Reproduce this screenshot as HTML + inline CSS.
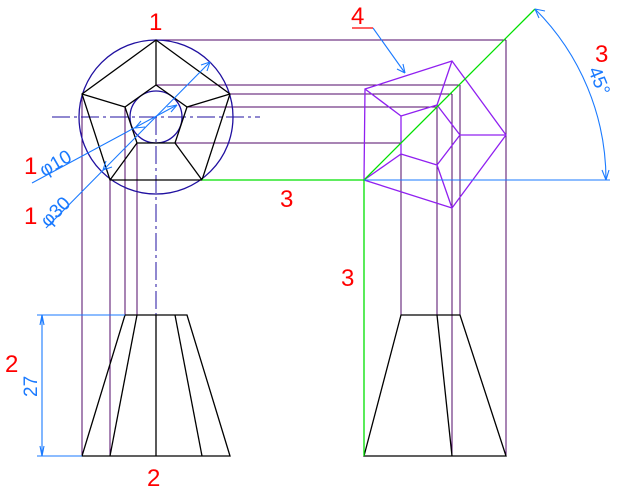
<!DOCTYPE html>
<html><head><meta charset="utf-8"><style>html,body{margin:0;padding:0;background:#fff}svg{display:block}</style></head>
<body>
<svg width="619" height="490" viewBox="0 0 619 490" xmlns="http://www.w3.org/2000/svg" font-family="Liberation Sans, sans-serif">
<g fill="none" stroke-width="1.3">
<g stroke="#50086a" shape-rendering="crispEdges">
<line x1="156" y1="40" x2="506" y2="40"/>
<line x1="156" y1="85" x2="460" y2="85"/>
<line x1="230" y1="94" x2="452" y2="94"/>
<line x1="187" y1="107" x2="437" y2="107"/>
<line x1="175" y1="143" x2="401" y2="143"/>
<line x1="82" y1="94" x2="82" y2="456"/>
<line x1="110" y1="180" x2="110" y2="456"/>
<line x1="125" y1="107" x2="125" y2="315"/>
<line x1="137" y1="143" x2="137" y2="315"/>
<line x1="506" y1="40" x2="506" y2="456"/>
<line x1="460" y1="85" x2="460" y2="315"/>
<line x1="452" y1="94" x2="452" y2="456"/>
<line x1="437" y1="105" x2="437" y2="315"/>
<line x1="401" y1="116" x2="401" y2="315"/>
</g>
<g stroke="#2010a0">
<circle cx="156" cy="117" r="77"/>
<circle cx="156" cy="117" r="26"/>
<line x1="52" y1="117" x2="260" y2="117" stroke-dasharray="18,4,3,4" shape-rendering="crispEdges"/>
<line x1="156" y1="117" x2="156" y2="315" stroke-dasharray="18,4,3,4" shape-rendering="crispEdges"/>
</g>
<g stroke="#000">
<polygon points="156,40 230,94 202,180 110,180 82,94"/>
<polygon points="156,85 187,107 175,143 137,143 125,107"/>
<line x1="156" y1="40" x2="156" y2="85"/>
<line x1="230" y1="94" x2="187" y2="107"/>
<line x1="202" y1="180" x2="175" y2="143"/>
<line x1="110" y1="180" x2="137" y2="143"/>
<line x1="82" y1="94" x2="125" y2="107"/>
<polygon points="125,315 187,315 230,456 82,456"/>
<line x1="137" y1="315" x2="110" y2="456"/>
<line x1="175" y1="315" x2="202" y2="456"/>
<line x1="156" y1="315" x2="156" y2="456"/>
<polygon points="401,315 460,315 506,456 364,456"/>
<line x1="437" y1="315" x2="452" y2="456"/>
</g>
<g stroke="#9020f0">
<polygon points="364,180 365,89 452,61 506,135 452,208"/>
<polygon points="401,116 437,105 460,135 437,165 401,154"/>
<line x1="365" y1="89" x2="401" y2="116"/>
<line x1="452" y1="61" x2="437" y2="105"/>
<line x1="506" y1="135" x2="460" y2="135"/>
<line x1="452" y1="208" x2="437" y2="165"/>
<line x1="364" y1="180" x2="401" y2="154"/>
</g>
<g stroke="#00e000">
<line x1="202" y1="180" x2="364" y2="180"/>
<line x1="364" y1="180" x2="364" y2="456"/>
<line x1="364" y1="180" x2="535" y2="9"/>
</g>
<g stroke="#1a7aff" stroke-width="1.1">
<line x1="364" y1="180" x2="610" y2="180"/>
<path d="M535,9 A242,242 0 0 1 606,180"/>
<path d="M535,9 l10,2 M535,9 l4,9"/>
<path d="M606,180 l-4,-10 M606,180 l3,-10"/>
<line x1="32" y1="183" x2="177" y2="105"/>
<path d="M177,105 l-10,2 M177,105 l-6,7 M135,128 l10,-1 M135,128 l6,-7"/>
<line x1="46" y1="228" x2="210" y2="62"/>
<path d="M210,62 l-9,3 M210,62 l-3,9 M103,170 l3,-9 M103,170 l9,-3"/>
<line x1="37" y1="315" x2="125" y2="315"/>
<line x1="37" y1="456" x2="82" y2="456"/>
<line x1="42" y1="315" x2="42" y2="456"/>
<path d="M42,315 l-2,10 M42,315 l2,10 M42,456 l-2,-10 M42,456 l2,-10"/>
<line x1="373" y1="28" x2="405" y2="73"/>
<path d="M405,73 l-8,-4 M405,73 l-2,-9"/>
</g>
<line x1="352" y1="28" x2="373" y2="28" stroke="#ff0000"/>
</g>
<g fill="#ff0000" font-size="24">
<text x="149" y="30">1</text>
<text x="351" y="24">4</text>
<text x="595" y="62">3</text>
<text x="280" y="207">3</text>
<text x="341" y="286">3</text>
<text x="5" y="372">2</text>
<text x="147" y="486">2</text>
<text x="24" y="174">1</text>
<text x="24" y="224">1</text>
</g>
<g fill="#1a7aff" font-size="19">
<text x="0" y="0" transform="translate(44,177) rotate(-30)">φ10</text>
<text x="0" y="0" transform="translate(48,228) rotate(-45)">φ30</text>
<text x="0" y="0" transform="translate(37,397) rotate(-90)">27</text>
<text x="0" y="0" transform="translate(588,70) rotate(68)">45°</text>
</g>
</svg>
</body></html>
